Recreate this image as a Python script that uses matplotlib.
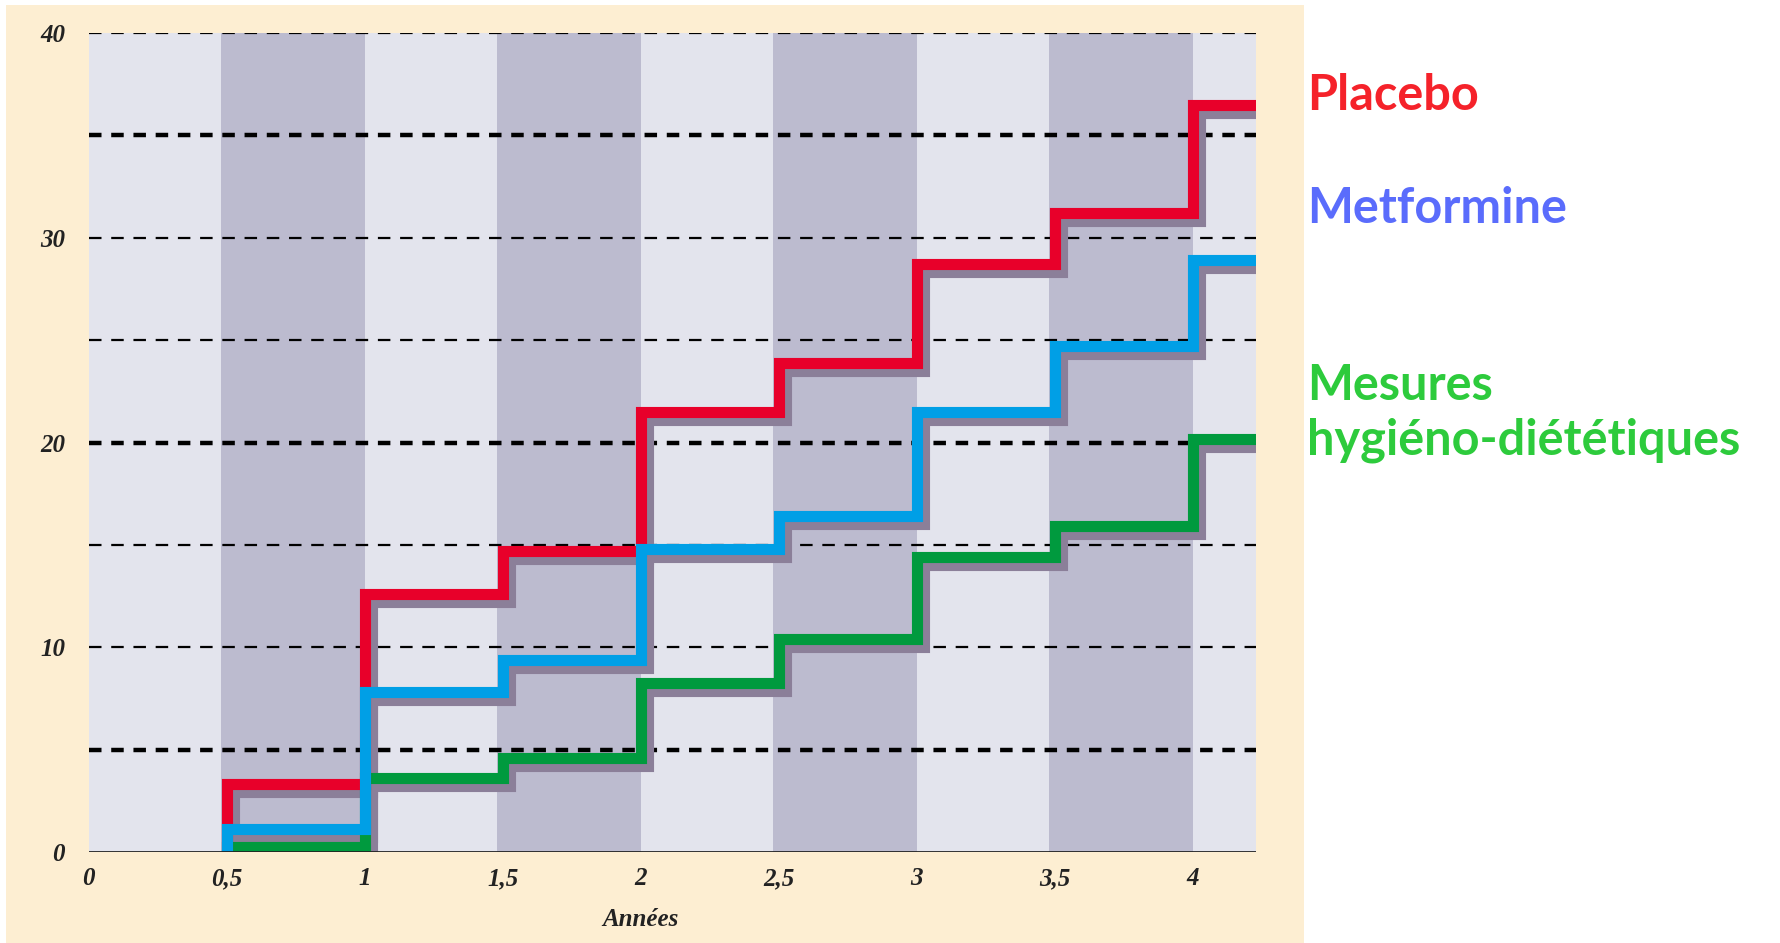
import matplotlib
matplotlib.use("Agg")
import matplotlib.pyplot as plt
from matplotlib.patches import Rectangle
from matplotlib.transforms import ScaledTranslation

# years at which each step starts, last value is the right edge of the plot
years = [0.5, 1.0, 1.5, 2.0, 2.5, 3.0, 3.5, 4.0, 4.23]

placebo = [3.3, 12.6, 14.7, 21.5, 23.9, 28.7, 31.2, 36.5]
metformine = [1.1, 7.8, 9.4, 14.8, 16.4, 21.5, 24.7, 28.9]
mesures = [0.25, 3.6, 4.6, 8.25, 10.4, 14.4, 15.9, 20.15]

x_ticks = [0, 0.5, 1, 1.5, 2, 2.5, 3, 3.5, 4]
x_tick_labels = ["0", "0,5", "1", "1,5", "2", "2,5", "3", "3,5", "4"]
y_ticks = [0, 10, 20, 30, 40]
grid_thin = [10, 15, 25, 30, 40]
grid_thick = [5, 20, 35]
dark_bands = [(0.48, 1.0), (1.48, 2.0), (2.48, 3.0), (3.48, 4.0)]

labels = ["Placebo", "Metformine", "Mesures\nhygiéno-diététiques"]
label_colors = ["#f5222a", "#5a6cfc", "#2dcb3c"]
line_colors = ["#e8002a", "#009fe6", "#009a3e"]

plt.rcParams["lines.scale_dashes"] = False

fig = plt.figure(figsize=(17.81, 9.43), dpi=100)
fig.patches.append(Rectangle((6 / 1781, 0), (1304 - 6) / 1781, 1 - 5 / 943,
                             transform=fig.transFigure, facecolor="#fdeed2",
                             edgecolor="none", zorder=-10))

ax = fig.add_axes([88.6 / 1781, 1 - 852 / 943, (1256 - 88.6) / 1781, (852 - 33) / 943])
ax.set_facecolor("#e3e4ed")
ax.set_xlim(0, 4.23)
ax.set_ylim(0, 40)

for a, b in dark_bands:
    ax.axvspan(a, b, color="#bcbbcf", lw=0, zorder=0)

for g in grid_thin:
    ax.axhline(g, color="black", lw=1.6, dashes=(9, 7), zorder=1)
for g in grid_thick:
    ax.axhline(g, color="black", lw=3.2, dashes=(9, 7), zorder=1)
ax.axhline(0, color="#222222", lw=2, zorder=6)

shadow = ax.transData + ScaledTranslation(7 / 100, -8 / 100, fig.dpi_scale_trans)
series = [mesures, placebo, metformine]
colors = [line_colors[2], line_colors[0], line_colors[1]]
for vals in series:
    xs = [years[0]] + years
    ys = [0] + vals + [vals[-1]]
    ax.step(xs, ys, where="post", color="#8b7f99", lw=8, transform=shadow,
            solid_joinstyle="miter", solid_capstyle="butt", zorder=2)
for vals, c in zip(series, colors):
    xs = [years[0]] + years
    ys = [0] + vals + [vals[-1]]
    ax.step(xs, ys, where="post", color=c, lw=8,
            solid_joinstyle="miter", solid_capstyle="butt", zorder=3)

for s in ax.spines.values():
    s.set_visible(False)

tick_font = dict(family="Liberation Serif", style="italic", weight="bold", size=18)
ax.set_xticks(x_ticks)
ax.set_xticklabels(x_tick_labels, **tick_font, color="#222222")
ax.set_yticks(y_ticks)
ax.set_yticklabels([str(v) for v in y_ticks], **tick_font, color="#222222")
ax.tick_params(length=0)
ax.tick_params(axis="x", pad=11)
ax.tick_params(axis="y", pad=17)
ax.set_xlabel("Années", **tick_font, color="#222222")
ax.xaxis.set_label_coords(2.0 / 4.23, -0.068)

ys_lab = [1 - 110 / 943, 1 - 223 / 943, 1 - 455 / 943]
for lab, c, yb in zip(labels, label_colors, ys_lab):
    fig.text(1307 / 1781, yb, lab, color=c, fontsize=35, family="Lato",
             weight="bold", ha="left", va="baseline", linespacing=1.28)

fig.savefig("out.png", dpi=100)
